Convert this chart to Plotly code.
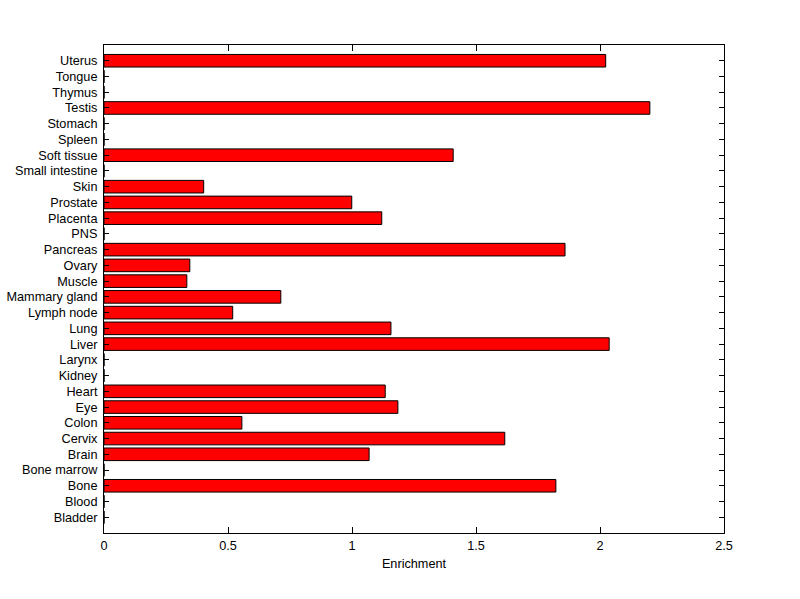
import plotly.graph_objects as go

tissues = ["Bladder", "Blood", "Bone", "Bone marrow", "Brain", "Cervix", "Colon", "Eye",
           "Heart", "Kidney", "Larynx", "Liver", "Lung", "Lymph node", "Mammary gland",
           "Muscle", "Ovary", "Pancreas", "PNS", "Placenta", "Prostate", "Skin",
           "Small intestine", "Soft tissue", "Spleen", "Stomach", "Testis", "Thymus",
           "Tongue", "Uterus"]
enrichment = [0, 0, 1.822, 0, 1.069, 1.616, 0.556, 1.185,
              1.134, 0, 0, 2.037, 1.157, 0.519, 0.713,
              0.334, 0.346, 1.859, 0, 1.120, 0.999, 0.402,
              0, 1.408, 0, 0, 2.201, 0,
              0, 2.023]
x_ticks = [0, 0.5, 1, 1.5, 2, 2.5]
x_ticktext = ["0", "0.5", "1", "1.5", "2", "2.5"]

fig = go.Figure()
fig.add_trace(go.Bar(
    x=enrichment, y=tissues, orientation="h",
    marker=dict(color="#ff0000", line=dict(color="black", width=1)),
    width=0.8, hoverinfo="x+y",
))

font = dict(family="Liberation Sans, Arial, sans-serif", size=12.7, color="black")
fig.update_layout(
    width=800, height=599,
    margin=dict(l=104, r=76, t=45, b=66),
    paper_bgcolor="white", plot_bgcolor="white",
    font=font, showlegend=False,
    xaxis=dict(range=[0, 2.5], tickvals=x_ticks, ticktext=x_ticktext,
               ticks="inside", ticklen=6, tickcolor="black", tickwidth=1,
               showline=True, linecolor="black", linewidth=1, mirror="ticks",
               showgrid=False, zeroline=False, automargin=False,
               title=dict(text="Enrichment", font=font, standoff=6),
               ticklabelstandoff=1),
    yaxis=dict(categoryorder="array", categoryarray=tissues, range=[-1, 30],
               ticks="inside", ticklen=5, tickcolor="black", tickwidth=1,
               showline=True, linecolor="black", linewidth=1, mirror="ticks",
               showgrid=False, zeroline=False, automargin=False,
               ticklabelstandoff=3),
)

fig.write_html("out.html", config={"displayModeBar": False},
               post_script="document.body.style.margin='0px';document.body.style.overflow='hidden';")
